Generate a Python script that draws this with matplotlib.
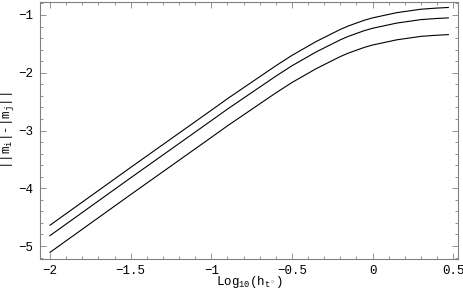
import matplotlib
matplotlib.use("Agg")
import matplotlib.pyplot as plt
from matplotlib.ticker import MultipleLocator

plt.rcParams['font.family'] = ['Liberation Mono', 'DejaVu Sans Mono']
plt.rcParams['mathtext.fontset'] = 'custom'
plt.rcParams['mathtext.rm'] = 'Liberation Mono'
plt.rcParams['mathtext.it'] = 'Liberation Mono'
plt.rcParams['mathtext.default'] = 'rm'

# log10(h_t0) and the three curves
x = [-2, -1.5, -1, -0.9, -0.8, -0.7, -0.6, -0.55, -0.5, -0.45, -0.4, -0.35, -0.3, -0.25,
     -0.2, -0.15, -0.1, -0.05, 0, 0.05, 0.1, 0.15, 0.2, 0.25, 0.3, 0.35, 0.4, 0.47]
top = [-4.64, -3.64, -2.65, -2.45, -2.26, -2.07, -1.88, -1.79, -1.70, -1.62, -1.54, -1.46,
       -1.39, -1.32, -1.25, -1.19, -1.14, -1.09, -1.05, -1.02, -0.99, -0.96, -0.94, -0.92,
       -0.90, -0.89, -0.88, -0.87]
mid = [-4.82, -3.82, -2.83, -2.63, -2.44, -2.25, -2.06, -1.97, -1.88, -1.80, -1.72, -1.64,
       -1.57, -1.50, -1.43, -1.37, -1.32, -1.27, -1.23, -1.20, -1.17, -1.14, -1.12, -1.10,
       -1.08, -1.07, -1.06, -1.05]
bottom = [-5.11, -4.11, -3.12, -2.92, -2.73, -2.54, -2.35, -2.26, -2.17, -2.09, -2.01, -1.93,
          -1.86, -1.79, -1.72, -1.66, -1.61, -1.56, -1.52, -1.49, -1.46, -1.43, -1.41, -1.39,
          -1.37, -1.36, -1.35, -1.34]

fig = plt.figure(figsize=(4.63, 2.90), dpi=100)
ax = fig.add_axes([40/463, 1 - 259/290, 418/463, 257/290])

for y in (top, mid, bottom):
    ax.plot(x, y, color='black', lw=0.8)

ax.set_xlim(-2.062, 0.53)
ax.set_ylim(-5.225, -0.775)
ax.xaxis.set_major_locator(MultipleLocator(0.5))
ax.xaxis.set_minor_locator(MultipleLocator(0.1))
ax.yaxis.set_major_locator(MultipleLocator(1))
ax.yaxis.set_minor_locator(MultipleLocator(0.2))
fmt = plt.FuncFormatter(lambda v, p: ('%g' % v).replace('-', '\u2212'))
ax.xaxis.set_major_formatter(fmt)
ax.yaxis.set_major_formatter(fmt)

gray = '#808080'
for s in ax.spines.values():
    s.set_color(gray)
    s.set_linewidth(0.8)
ax.tick_params(which='both', direction='in', top=True, right=True, color=gray,
               width=0.6, labelsize=9, labelcolor='black')
ax.tick_params(which='major', length=4)
ax.tick_params(axis='x', which='major', pad=4)
ax.tick_params(axis='y', which='major', pad=5)
ax.tick_params(which='minor', length=2)

ax.set_xlabel(r'Log$_{10}$(h$_{t^\circ}$)', fontsize=9)
ax.xaxis.set_label_coords(0.5, -0.06)
ax.set_ylabel(r'||m$_i$|-|m$_j$||', fontsize=9)
ax.yaxis.set_label_coords(-0.058, 0.5)

fig.savefig('out.png', dpi=100)
